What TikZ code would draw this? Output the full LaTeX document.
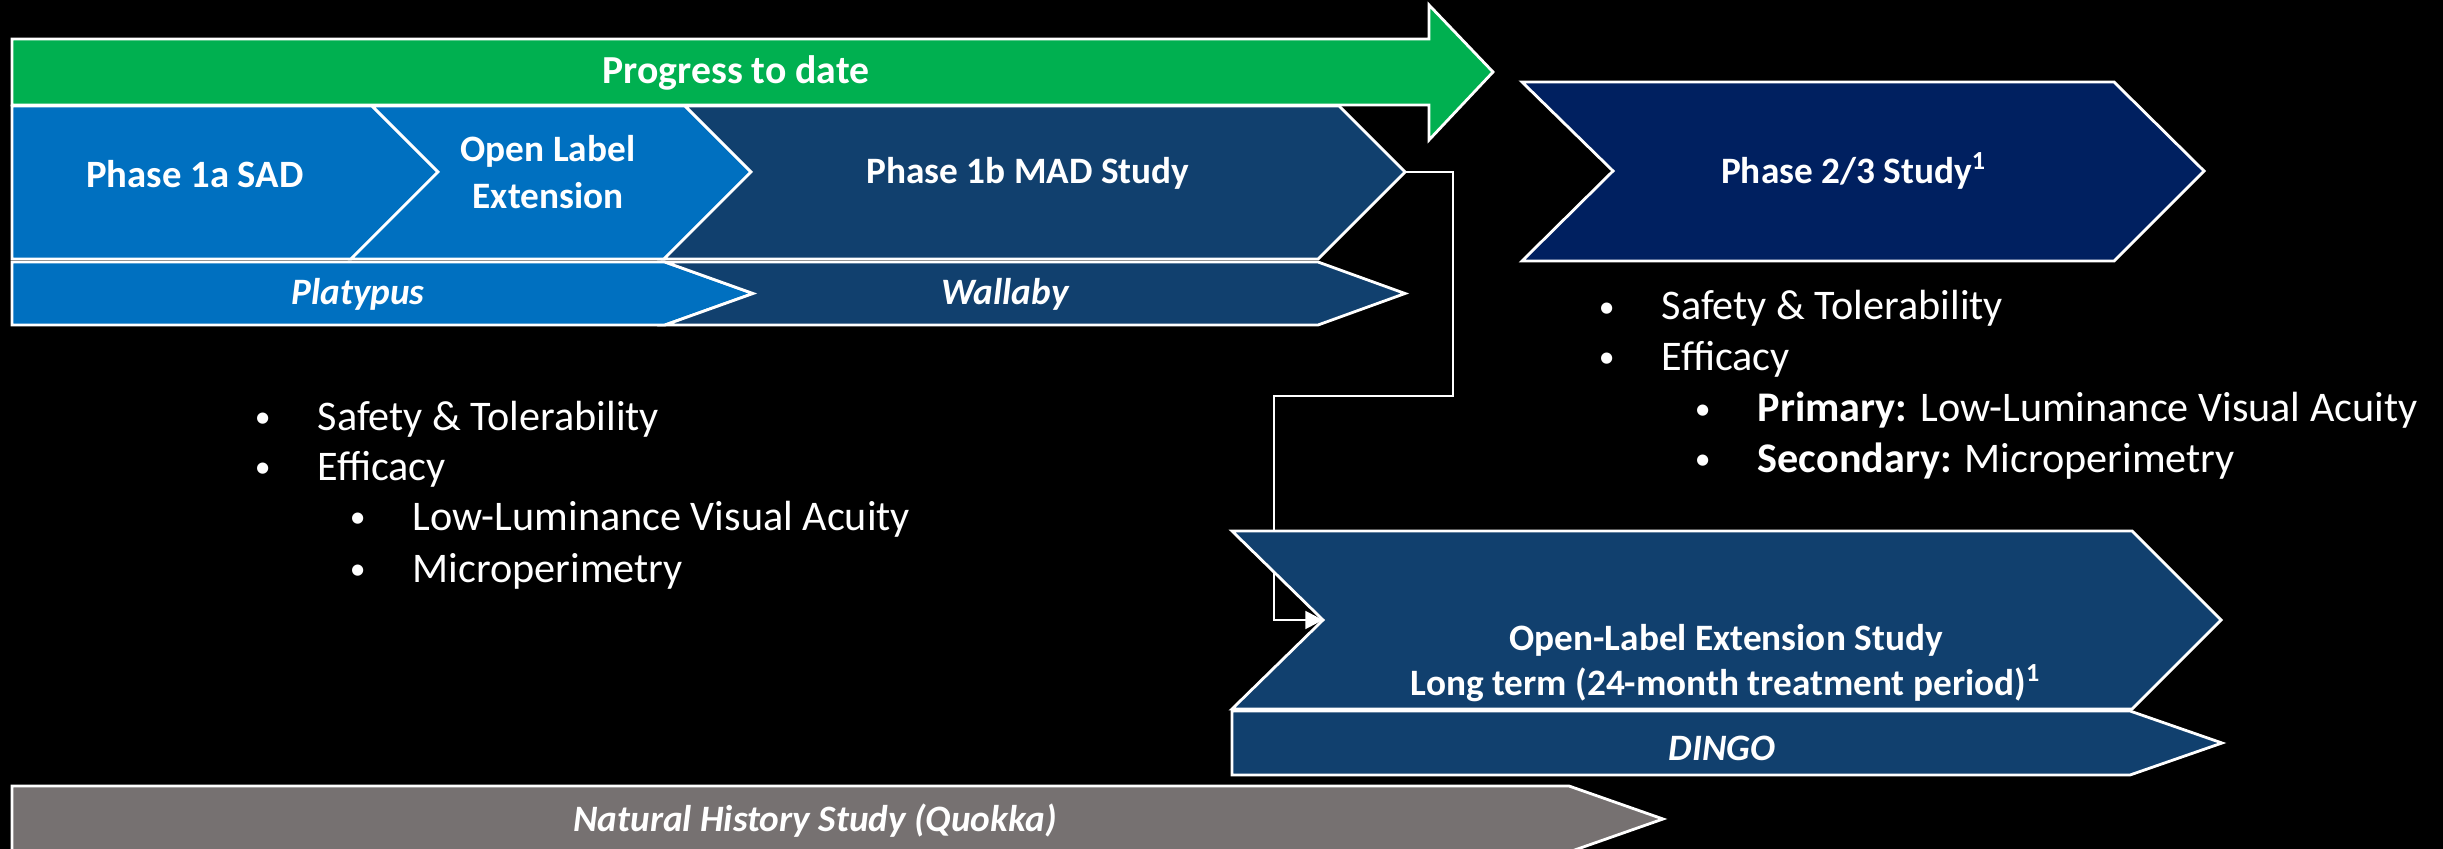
\documentclass[tikz,border=0pt]{standalone}
\usepackage{fontspec}
\setmainfont{Carlito}
\usepackage{tikz}
\usetikzlibrary{arrows.meta}

\definecolor{progGreen}{RGB}{0,176,80}
\definecolor{midBlue}{RGB}{0,112,192}
\definecolor{darkBlue}{RGB}{17,64,110}
\definecolor{navyBlue}{RGB}{0,32,96}
\definecolor{stoneGrey}{RGB}{118,113,113}

\newcommand{\itemdot}{\makebox[0.65cm][l]{\hspace{0.05em}\raisebox{0.06em}{\scalebox{0.75}{\textbullet}}}}

\begin{document}
\begin{tikzpicture}[x=0.01cm, y=-0.01cm,
  phase/.style={draw=white, line width=0.8pt, line join=miter},
  label node/.style={text=white, font=\fontsize{10.6}{13.6}\selectfont\bfseries, align=center, inner sep=0pt},
  study node/.style={text=white, font=\fontsize{10.6}{13}\selectfont\bfseries\itshape, inner sep=0pt},
  item node/.style={text=white, font=\fontsize{12}{14}\selectfont, anchor=base west, inner sep=0pt},
  link/.style={draw=white, line width=0.8pt, -{Triangle[length=5pt, width=5pt]}}]

\useasboundingbox (0,0) rectangle (2443,849);
\fill[black] (0,0) rectangle (2443,849);

% progress arrow
\path[phase, fill=progGreen] (12,39) -- (1429,39) -- (1429,5) -- (1493,72) -- (1429,140) -- (1429,105) -- (12,105) -- cycle;
\node[label node, font=\fontsize{11.3}{13.6}\selectfont\bfseries] (progress) at (736,73) {Progress to date};

% phase 1 row
\path[phase, fill=midBlue] (12,106) -- (372,106) -- (438,172) -- (351,259) -- (12,259) -- cycle;
\path[phase, fill=midBlue] (372,106) -- (685,106) -- (751,172) -- (664,259) -- (351,259) -- (438,172) -- cycle;
\path[phase, fill=darkBlue] (685,106) -- (1339,106) -- (1405,172) -- (1318,259) -- (664,259) -- (751,172) -- cycle;
\coordinate (madtip) at (1405,172);
\node[label node, font=\fontsize{11}{13.6}\selectfont\bfseries] (sad) at (195,174) {Phase 1a SAD};
\node[label node] (ole) at (548,172) {Open Label\\Extension};
\node[label node] (mad) at (1028,173) {Phase 1b MAD Study};

\path[phase, fill=midBlue] (12,262) -- (665,262) -- (753,293.5) -- (665,325) -- (12,325) -- cycle;
\path[phase, fill=darkBlue] (665,262) -- (1318,262) -- (1405,293.5) -- (1318,325) -- (665,325) -- (753,293.5) -- cycle;
\node[study node] (platypus) at (358,294) {Platypus};
\node[study node] (wallaby) at (1005,294) {Wallaby};

% link to extension study
\coordinate (olenotch) at (1323,620);
\draw[link] (madtip) -- (1453,172) -- (1453,396) -- (1274,396) |- (olenotch);

% phase 2/3
\path[phase, fill=navyBlue] (1522,82) -- (2114,82) -- (2204,171) -- (2114,261) -- (1522,261) -- (1613,171) -- cycle;
\node[label node] (pivotal) at (1854,171) {Phase 2/3 Study\textsuperscript{1}};

% extension study
\path[phase, fill=darkBlue] (1232,531) -- (2132,531) -- (2221,620) -- (2132,709) -- (1232,709) -- (1323,620) -- cycle;
\path[phase, fill=darkBlue] (1232,711) -- (2130,711) -- (2222,743) -- (2130,775) -- (1232,775) -- cycle;
\node[label node, font=\fontsize{10.6}{12.8}\selectfont\bfseries] (olestudy) at (1726,663) {Open-Label Extension Study\\Long term (24-month treatment period)\textsuperscript{1}};
\node[study node] (dingo) at (1722,748) {DINGO};

% natural history
\path[phase, fill=stoneGrey] (12,786) -- (1569,786) -- (1663,819) -- (1569,852) -- (12,852) -- cycle;
\node[study node] (quokka) at (815,821) {Natural History Study (Quokka)};

% endpoints
\node[item node] (safetyA) at (252,430) {\itemdot Safety \& Tolerability};
\node[item node] (efficacyA) at (252,480) {\itemdot Efficacy};
\node[item node] (lumA) at (347,530) {\itemdot Low-Luminance Visual Acuity};
\node[item node] (microA) at (347,582) {\itemdot Microperimetry};

\node[item node] (safetyB) at (1596,320) {\itemdot Safety \& Tolerability};
\node[item node] (efficacyB) at (1596,370) {\itemdot Efficacy};
\node[item node] (lumB) at (1692,422) {\itemdot \textbf{Primary:} Low-Luminance Visual Acuity};
\node[item node] (microB) at (1692,472) {\itemdot \textbf{Secondary:} Microperimetry};

\end{tikzpicture}
\end{document}
